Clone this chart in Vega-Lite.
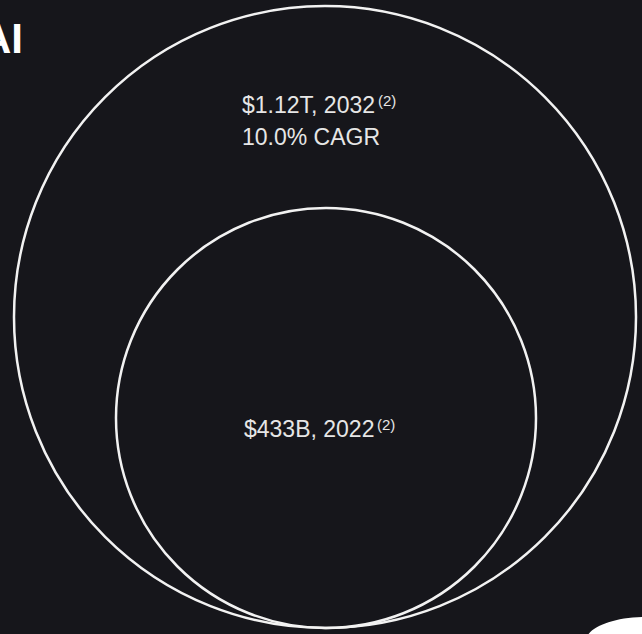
{
  "$schema": "https://vega.github.io/schema/vega-lite/v6.json",
  "width": 642,
  "height": 634,
  "autosize": {"type": "none"},
  "padding": 0,
  "background": "#16161b",
  "config": {"view": {"stroke": null}},
  "datasets": {
    "circles": [
      {"year": "2032", "cx": 325, "cy": 317, "area": 386884},
      {"year": "2022", "cx": 326, "cy": 418, "area": 176400}
    ],
    "labels": [
      {"text": "$1.12T, 2032", "x": 242, "y": 113},
      {"text": "10.0% CAGR", "x": 242, "y": 145},
      {"text": "$433B, 2022", "x": 244, "y": 437}
    ],
    "sups": [
      {"text": "(2)", "x": 378, "y": 106},
      {"text": "(2)", "x": 377, "y": 430}
    ],
    "title": [{"text": "AI", "x": -19, "y": 53}],
    "logo": [{"x": 646, "y": 641, "area": 6400}]
  },
  "encoding": {
    "x": {"field": "x", "type": "quantitative", "scale": {"domain": [0, 642], "nice": false, "zero": false}, "axis": null},
    "y": {"field": "y", "type": "quantitative", "scale": {"domain": [0, 634], "nice": false, "zero": false, "reverse": true}, "axis": null}
  },
  "layer": [
    {
      "data": {"name": "circles"},
      "mark": {"type": "point", "shape": "circle", "filled": false, "stroke": "#f2f2f2", "strokeWidth": 2.5, "opacity": 1, "clip": false},
      "encoding": {
        "x": {"field": "cx", "type": "quantitative"},
        "y": {"field": "cy", "type": "quantitative"},
        "size": {"field": "area", "type": "quantitative", "scale": null, "legend": null}
      }
    },
    {
      "data": {"name": "labels"},
      "mark": {"type": "text", "align": "left", "baseline": "alphabetic", "font": "Liberation Sans", "fontSize": 23, "color": "#e6e6e6"},
      "encoding": {"text": {"field": "text"}}
    },
    {
      "data": {"name": "sups"},
      "mark": {"type": "text", "align": "left", "baseline": "alphabetic", "font": "Liberation Sans", "fontSize": 15, "color": "#e6e6e6"},
      "encoding": {"text": {"field": "text"}}
    },
    {
      "data": {"name": "title"},
      "mark": {"type": "text", "align": "left", "baseline": "alphabetic", "font": "Liberation Sans", "fontSize": 42, "fontWeight": "bold", "color": "#ffffff"},
      "encoding": {"text": {"field": "text"}}
    },
    {
      "data": {"name": "logo"},
      "mark": {"type": "point", "shape": "M -1.5 0 A 1.5 0.6 0 1 1 1.5 0 A 1.5 0.6 0 1 1 -1.5 0 Z", "filled": true, "color": "#ffffff", "opacity": 1, "clip": true},
      "encoding": {
        "size": {"field": "area", "type": "quantitative", "scale": null, "legend": null}
      }
    }
  ]
}
